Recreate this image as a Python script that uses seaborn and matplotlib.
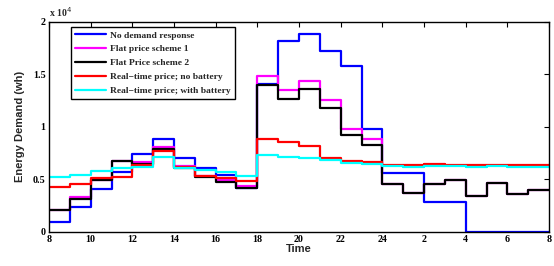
import numpy as np
import pandas as pd
import matplotlib
matplotlib.use("Agg")
import matplotlib.pyplot as plt
import seaborn as sns

# Hours 8..31 (each value holds for one hour); axis runs 8 -> 32 (8 next day)
hours = list(range(8, 32))
tick_pos = [8, 10, 12, 14, 16, 18, 20, 22, 24, 26, 28, 30, 32]
tick_labels = ['8', '10', '12', '14', '16', '18', '20', '22', '24', '2', '4', '6', '8']
ytick_pos = [0, 5000, 10000, 15000, 20000]
ytick_labels = ['0', '0.5', '1', '1.5', '2']

series_names = ['No demand response', 'Flat price scheme 1', 'Flat Price scheme 2',
                'Real\u2212time price; no battery', 'Real\u2212time price; with battery']
series_colors = ['#0000ff', '#ff00ff', '#000000', '#ff0000', '#00ffff']

no_demand = [950, 2370, 4030, 5700, 7440, 8800, 7060, 6020, 5400, 4120,
             14100, 18150, 18850, 17250, 15770, 9800,
             5600, 5600, 2790, 2790, 0, 0, 0, 0]
flat1 = [2100, 3270, 4970, 6760, 6620, 8070, 6270, 5320, 4910, 4340,
         14790, 13460, 14380, 12570, 9780, 8830,
         4530, 3640, 4530, 4910, 3390, 4600, 3580, 3960]
flat2 = [2060, 3100, 4970, 6710, 6430, 7900, 6110, 5220, 4690, 4180,
         14000, 12670, 13560, 11810, 9180, 8290,
         4530, 3640, 4530, 4910, 3390, 4600, 3580, 3960]
rt_nobat = [4280, 4530, 5070, 5170, 6330, 7650, 6170, 5320, 5070, 4810,
            8800, 8550, 8170, 7030, 6740, 6650,
            6400, 6380, 6420, 6400, 6360, 6400, 6380, 6400]
rt_bat = [5170, 5380, 5760, 6020, 6200, 7080, 6080, 5900, 5700, 5290,
          7300, 7120, 7000, 6810, 6590, 6490,
          6250, 6200, 6280, 6280, 6180, 6250, 6180, 6200]

all_series = [no_demand, flat1, flat2, rt_nobat, rt_bat]

rows = []
for name, vals in zip(series_names, all_series):
    xs = hours + [32]
    ys = list(vals) + [vals[-1]]
    for x, y in zip(xs, ys):
        rows.append({'Time': x, 'Energy': y, 'Series': name})
df = pd.DataFrame(rows)

sns.set_theme(style='white')
plt.rcParams['font.family'] = ['Liberation Serif', 'DejaVu Serif']

fig = plt.figure(figsize=(5.54, 2.66), dpi=100)
ax = fig.add_axes([49/554, 1 - 231.7/266, 500/554, 210/266])

sns.lineplot(data=df, x='Time', y='Energy', hue='Series', hue_order=series_names,
             palette=dict(zip(series_names, series_colors)), drawstyle='steps-post',
             estimator=None, sort=False, linewidth=1.6, ax=ax)

ax.set_xlim(8, 32)
ax.set_ylim(0, 20000)
ax.set_xticks(tick_pos)
ax.set_xticklabels(tick_labels)
ax.set_yticks(ytick_pos)
ax.set_yticklabels(ytick_labels)
for lab in ax.get_xticklabels() + ax.get_yticklabels():
    lab.set_fontweight('bold')
    lab.set_fontsize(7.2)
ax.tick_params(direction='in', length=3.5, width=0.8, top=True, right=True,
               colors='black', pad=2.5)
for sp in ax.spines.values():
    sp.set_visible(True)
    sp.set_color('black')
    sp.set_linewidth(1.0)

ax.set_xlabel('Time', fontfamily='Liberation Sans', fontweight='bold', fontsize=8, labelpad=0)
ax.set_ylabel('Energy Demand (wh)', fontfamily='Liberation Sans', fontweight='bold', fontsize=8, labelpad=6)

ax.text(0.0, 1.012, 'x 10$^{4}$', transform=ax.transAxes, fontsize=7, fontweight='bold',
        ha='left', va='bottom')

leg = ax.legend(loc='upper left', bbox_to_anchor=(0.044, 0.976), borderaxespad=0,
                prop={'family': 'Liberation Serif', 'weight': 'bold', 'size': 6.8},
                handlelength=3.3, handletextpad=0.4, labelspacing=0.55,
                borderpad=0.45, fancybox=False, framealpha=1, edgecolor='black')
leg.get_frame().set_linewidth(1.0)
for l in leg.get_lines():
    l.set_linewidth(1.6)

fig.savefig('out.png', dpi=100, facecolor='white')
